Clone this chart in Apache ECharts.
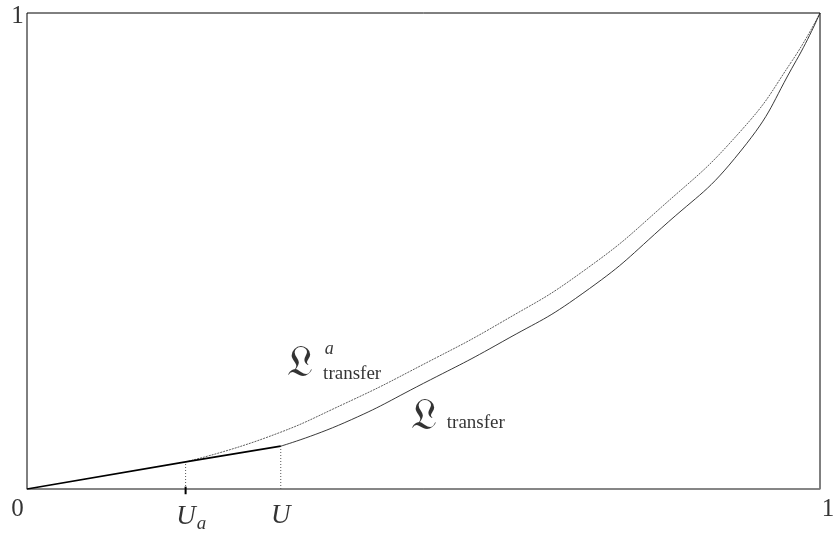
<!DOCTYPE html>
<html>
<head>
<meta charset="utf-8">
<style>html,body{margin:0;padding:0;background:#fff}#c{width:837px;height:537px}</style>
<script src="https://cdn.jsdelivr.net/npm/echarts@6/dist/echarts.min.js"></script>
</head>
<body>
<div id="c"></div>
<script>
// Data
const Ua = 0.2;
const U = 0.32;
const linearPart = [[0, 0], [0.2, 0.057], [0.32, 0.09]];
const transferA = [[0.2, 0.057], [0.3, 0.107], [0.4, 0.179], [0.5, 0.262], [0.6, 0.352], [0.7, 0.456], [0.8, 0.592], [0.9, 0.752], [0.965, 0.9], [1, 1]];
const transfer = [[0.32, 0.09], [0.4, 0.139], [0.5, 0.222], [0.6, 0.31], [0.7, 0.41], [0.8, 0.548], [0.9, 0.71], [0.97, 0.9], [1, 1]];
const tickLabels = ['0', '1', '1'];

const serif = '"Liberation Serif", "DejaVu Serif", serif';
const chart = echarts.init(document.getElementById('c'), null, {renderer: 'canvas'});

function textPoint(x, y, text, size, style) {
  return {value: [x, y], label: Object.assign({show: true, position: 'inside', formatter: text, fontSize: size, fontFamily: serif, color: '#000'}, style || {})};
}

chart.setOption({
  animation: false,
  backgroundColor: '#fff',
  grid: {left: 27, right: 17, top: 13, bottom: 48, show: true, borderColor: '#000', borderWidth: 1},
  xAxis: {type: 'value', min: 0, max: 1, axisLabel: {show: false}, axisTick: {show: false}, splitLine: {show: false},
    axisLine: {show: true, lineStyle: {color: '#888', width: 1.5}}},
  yAxis: {type: 'value', min: 0, max: 1, axisLabel: {show: false}, axisTick: {show: false}, splitLine: {show: false},
    axisLine: {show: false}},
  series: [
    {type: 'line', data: linearPart, symbol: 'none', lineStyle: {color: '#000', width: 1.6}, z: 5},
    {type: 'line', data: transferA, symbol: 'none', smooth: 0.5, lineStyle: {color: '#333', width: 0.8, type: [2, 1]}},
    {type: 'line', data: transfer, symbol: 'none', smooth: 0.5, lineStyle: {color: '#222', width: 0.9}},
    {type: 'line', data: [[Ua, 0], [Ua, linearPart[1][1]]], symbol: 'none', lineStyle: {color: '#555', width: 1, type: [1, 2]}},
    {type: 'line', data: [[U, 0], [U, linearPart[2][1]]], symbol: 'none', lineStyle: {color: '#555', width: 1, type: [1, 2]}},
    {type: 'line', data: [[Ua, -0.011], [Ua, 0.005]], symbol: 'none', clip: false, lineStyle: {color: '#000', width: 2}, z: 6},
    {type: 'scatter', symbolSize: 0, clip: false, silent: true, z: 10,
      data: [
        textPoint(-0.012, -0.042, tickLabels[0], 25),
        textPoint(-0.012, 0.992, tickLabels[1], 25),
        textPoint(1.01, -0.042, tickLabels[2], 25),
        textPoint(0.207, -0.058, '{i|U}{s|a}', 27, {rich: {i: {fontStyle: 'italic', fontSize: 27, fontFamily: serif}, s: {fontStyle: 'italic', fontSize: 19, fontFamily: serif, padding: [14, 0, 0, 1]}}}),
        textPoint(U, -0.056, '{i|U}', 27, {rich: {i: {fontStyle: 'italic', fontSize: 27, fontFamily: serif}}}),
        textPoint(0.344, 0.262, '𝔏', 44),
        textPoint(0.381, 0.294, 'a', 18, {fontStyle: 'italic'}),
        textPoint(0.41, 0.242, 'transfer', 19),
        textPoint(0.5, 0.15, '𝔏', 44),
        textPoint(0.566, 0.139, 'transfer', 19)
      ]}
  ]
});
</script>
</body>
</html>
